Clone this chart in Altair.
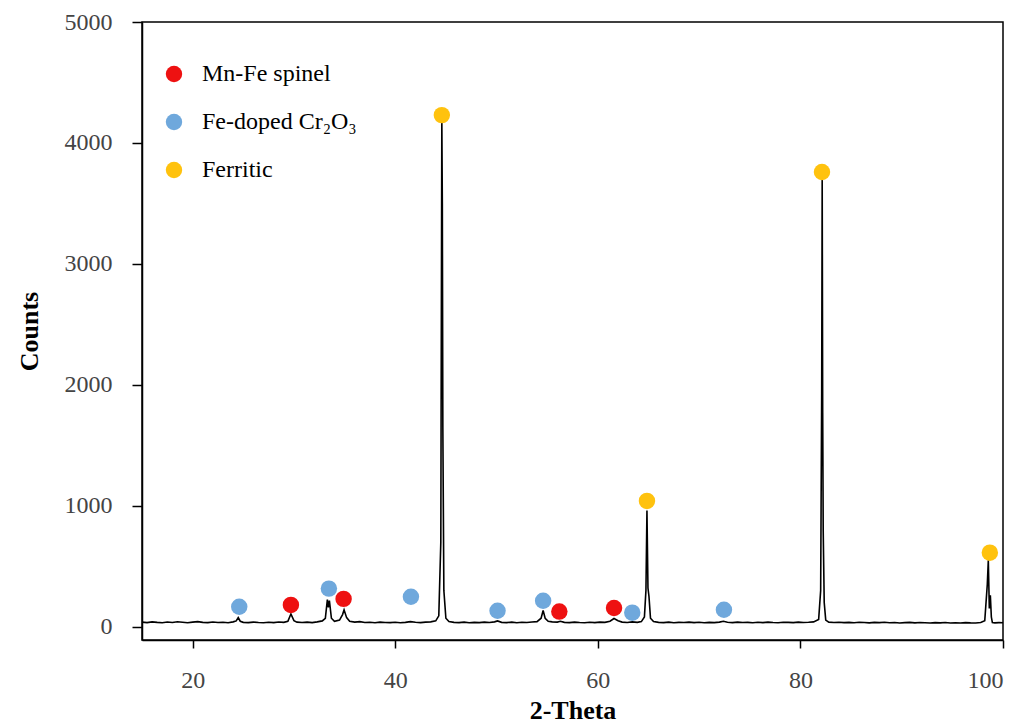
import altair as alt
import pandas as pd

# XRD pattern (2-theta, counts)
two_theta = [
    15.0, 15.5, 16.0, 16.5, 17.0, 17.5, 18.0, 18.5, 19.0, 19.5,
    20.0, 20.5, 21.0, 21.5, 22.0, 22.5, 23.0, 23.5, 24.0, 24.3,
    24.5, 24.7, 25.0, 25.5, 26.0, 26.5, 27.0, 27.5, 28.0, 28.5,
    29.0, 29.4, 29.7, 30.0, 30.3, 30.8, 31.3, 31.8, 32.3, 32.8,
    33.1, 33.3, 33.4, 33.5, 33.7, 34.0, 34.5, 34.8, 34.95, 35.2,
    35.5, 36.0, 36.5, 37.0, 37.5, 38.0, 38.5, 39.0, 39.5, 40.0,
    40.5, 41.0, 41.5, 42.0, 42.5, 43.0, 43.5, 44.0, 44.3, 44.5,
    44.6, 44.65, 44.7, 44.8, 45.0, 45.3, 45.8, 46.3, 46.8, 47.3,
    47.8, 48.3, 48.8, 49.3, 49.8, 50.1, 50.5, 51.0, 51.5, 52.0,
    52.5, 53.0, 53.5, 54.0, 54.4, 54.6, 54.8, 55.1, 55.5, 56.0,
    56.3, 56.7, 57.2, 57.7, 58.2, 58.7, 59.2, 59.7, 60.2, 60.7,
    61.2, 61.6, 62.0, 62.4, 62.9, 63.4, 63.9, 64.3, 64.6, 64.75,
    64.85, 64.95, 65.05, 65.2, 65.5, 66.0, 66.5, 67.0, 67.5, 68.0,
    68.5, 69.0, 69.5, 70.0, 70.5, 71.0, 71.5, 72.0, 72.4, 72.8,
    73.3, 73.8, 74.3, 74.8, 75.3, 75.8, 76.3, 76.8, 77.3, 77.8,
    78.3, 78.8, 79.3, 79.8, 80.3, 80.8, 81.3, 81.8, 82.0, 82.1,
    82.15, 82.2, 82.25, 82.35, 82.5, 82.8, 83.3, 83.8, 84.3, 84.8,
    85.3, 85.8, 86.3, 86.8, 87.3, 87.8, 88.3, 88.8, 89.3, 89.8,
    90.3, 90.8, 91.3, 91.8, 92.3, 92.8, 93.3, 93.8, 94.3, 94.8,
    95.3, 95.8, 96.3, 96.8, 97.3, 97.8, 98.2, 98.45, 98.55, 98.65,
    98.75, 98.85, 98.95, 99.2, 99.6, 100.0,
]
counts = [
    38, 34, 40, 36, 33, 39, 35, 41, 37, 33,
    38, 42, 36, 34, 39, 35, 37, 33, 40, 48,
    75, 45, 36, 34, 38, 35, 33, 37, 34, 39,
    36, 45, 105, 50, 38, 35, 38, 34, 40, 48,
    70, 225, 160, 215, 70, 45, 55, 100, 140, 75,
    45, 38, 42, 35, 37, 33, 38, 35, 34, 37,
    33, 36, 42, 37, 34, 38, 40, 48, 90, 700,
    4200, 3500, 1650, 300, 70, 42, 36, 34, 38, 33,
    36, 34, 38, 35, 40, 48, 36, 34, 38, 33,
    37, 35, 39, 42, 70, 135, 70, 45, 40, 38,
    45, 36, 34, 38, 35, 33, 37, 34, 38, 36,
    45, 68, 50, 38, 35, 40, 36, 42, 80, 300,
    960, 320, 250, 70, 42, 36, 34, 38, 33, 36,
    35, 38, 34, 37, 33, 36, 34, 38, 45, 37,
    34, 38, 35, 36, 33, 37, 34, 38, 35, 33,
    37, 36, 34, 38, 35, 37, 40, 60, 300, 1930,
    3720, 1770, 800, 200, 55, 38, 35, 37, 34, 36,
    33, 37, 35, 32, 36, 34, 37, 33, 35, 31,
    34, 36, 32, 35, 33, 30, 34, 32, 35, 31,
    33, 30, 34, 32, 31, 34, 50, 350, 550, 150,
    260, 80, 35, 32, 34, 33,
]

# Phase markers
phase_names = ["Mn-Fe spinel", "Fe-doped Cr\u2082O\u2083", "Ferritic"]
phase_colors = ["#EE1111", "#6FA8DC", "#FFC20E"]
marker_phase = (["Mn-Fe spinel"] * 4 + ["Fe-doped Cr\u2082O\u2083"] * 7 + ["Ferritic"] * 4)
marker_theta = [29.7, 34.9, 56.2, 61.6,
                24.6, 33.45, 41.55, 50.1, 54.6, 63.4, 72.45,
                44.6, 64.85, 82.13, 98.7]
marker_counts = [180, 230, 125, 155,
                 165, 315, 248, 132, 215, 116, 140,
                 4230, 1040, 3760, 612]

x_ticks = [20, 40, 60, 80, 100]
y_ticks = [0, 1000, 2000, 3000, 4000, 5000]

pattern = pd.DataFrame({"theta": two_theta, "counts": counts})
markers = pd.DataFrame({"theta": marker_theta, "counts": marker_counts, "phase": marker_phase})

FONT = "Liberation Serif"

x_enc = alt.X("theta:Q", scale=alt.Scale(domain=[15, 100], nice=False, zero=False),
              axis=alt.Axis(values=x_ticks, format="d", title="2-Theta", grid=False, tickSize=8,
                            labelPadding=20, titlePadding=5))
y_enc = alt.Y("counts:Q", scale=alt.Scale(domain=[-110, 5000], nice=False),
              axis=alt.Axis(values=y_ticks, format="d", title="Counts", grid=False, tickSize=10,
                            labelPadding=20, titlePadding=22))

line = alt.Chart(pattern).mark_line(color="black", strokeWidth=1.6).encode(
    x=x_enc, y=y_enc, order="theta:Q"
)

points = alt.Chart(markers).mark_circle(size=270, opacity=1).encode(
    x="theta:Q",
    y="counts:Q",
    color=alt.Color("phase:N",
                    scale=alt.Scale(domain=phase_names, range=phase_colors),
                    sort=phase_names,
                    legend=alt.Legend(title=None, orient="none", legendX=20, legendY=40,
                                      symbolSize=270, symbolType="circle",
                                      labelFontSize=24, labelFont=FONT, labelColor="black",
                                      labelOffset=16, rowPadding=24, padding=0,
                                      symbolStrokeWidth=0)),
)

chart = alt.layer(line, points).properties(
    width=861, height=618,
    autosize=alt.AutoSizeParams(type="none"),
    padding={"left": 134, "top": 14, "right": 10, "bottom": 86},
    background="white",
).configure_view(
    stroke="black", strokeWidth=1.5
).configure_axis(
    labelFont=FONT, labelFontSize=24, labelColor="#444444",
    titleFont=FONT, titleFontSize=26, titleFontWeight="bold", titleColor="black",
    domainColor="black", domainWidth=1.5, tickColor="black", tickWidth=1.5,
)

chart.save("out.html", embed_options={"renderer": "svg", "actions": False})
